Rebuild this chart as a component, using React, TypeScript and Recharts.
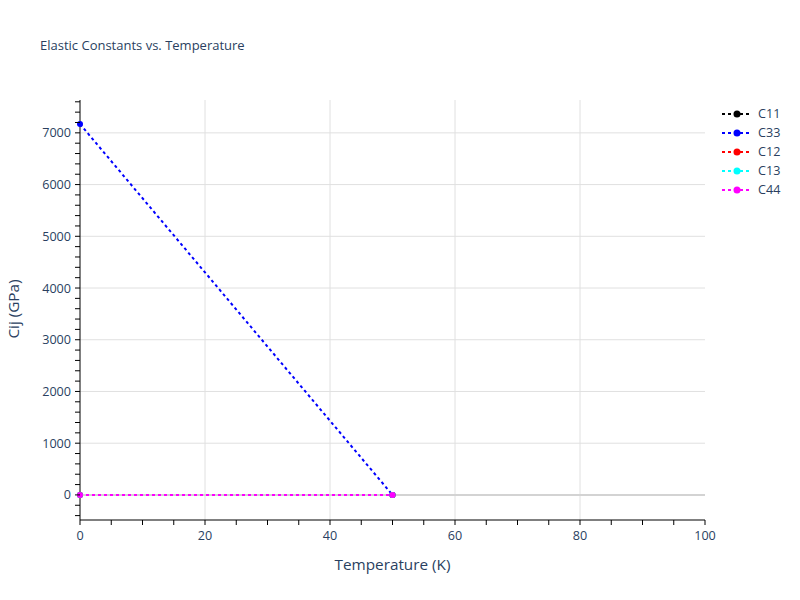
import React from "react";
import { LineChart, Line, XAxis, YAxis, CartesianGrid, ReferenceLine } from "recharts";

const temperatures = [0, 50];
const c11 = [0, 0];
const c33 = [7170, 0];
const c12 = [0, 0];
const c13 = [0, 0];
const c44 = [0, 0];

const seriesNames = ["C11", "C33", "C12", "C13", "C44"];
const seriesValues = [c11, c33, c12, c13, c44];
const seriesColors = ["#000000", "#0000ff", "#ff0000", "#00ffff", "#ff00ff"];

const xTicks = [0, 5, 10, 15, 20, 25, 30, 35, 40, 45, 50, 55, 60, 65, 70, 75, 80, 85, 90, 95, 100];
const xMajor = [0, 20, 40, 60, 80, 100];
const yTicks = [
  -400, -200, 0, 200, 400, 600, 800, 1000, 1200, 1400, 1600, 1800, 2000, 2200, 2400, 2600, 2800,
  3000, 3200, 3400, 3600, 3800, 4000, 4200, 4400, 4600, 4800, 5000, 5200, 5400, 5600, 5800, 6000,
  6200, 6400, 6600, 6800, 7000, 7200, 7400, 7600,
];
const yMajor = [0, 1000, 2000, 3000, 4000, 5000, 6000, 7000];

const FONT = '"Open Sans", Verdana, Arial, sans-serif';
const TEXT = "#2a3f5f";

const data = temperatures.map((t, i) => {
  const row: Record<string, number> = { t };
  seriesNames.forEach((name, k) => {
    row[name] = seriesValues[k][i];
  });
  return row;
});

// recharts hands the tick position 8px away from the axis line (tick size + margin)
function XTick({ x, y, payload }: any) {
  const major = xMajor.includes(payload.value);
  return (
    <g>
      <line x1={x} x2={x} y1={y - 8} y2={y - 3} stroke="#000" strokeWidth={1} />
      {major && (
        <text x={x} y={y + 12} textAnchor="middle" fill={TEXT} fontSize={12.6} fontFamily={FONT}>
          {payload.value}
        </text>
      )}
    </g>
  );
}

function YTick({ x, y, payload }: any) {
  const major = yMajor.includes(payload.value);
  return (
    <g>
      <line x1={x + 3} x2={x + 8} y1={y} y2={y} stroke="#000" strokeWidth={1} />
      {major && (
        <text x={x - 1} y={y + 4.5} textAnchor="end" fill={TEXT} fontSize={12.6} fontFamily={FONT}>
          {payload.value}
        </text>
      )}
    </g>
  );
}

function LegendBox() {
  return (
    <div style={{ position: "absolute", left: 720, top: 104, fontFamily: FONT, fontSize: 12.6, color: TEXT }}>
      {seriesNames.map((name, k) => (
        <div key={name} style={{ display: "flex", alignItems: "center", height: 19 }}>
          <svg width={34} height={10}>
            <line x1={2} x2={31} y1={5} y2={5} stroke={seriesColors[k]} strokeWidth={2} strokeDasharray="3 3" />
            <circle cx={17} cy={5} r={3.5} fill={seriesColors[k]} />
          </svg>
          <span style={{ marginLeft: 4 }}>{name}</span>
        </div>
      ))}
    </div>
  );
}

export default function App() {
  return (
    <div style={{ position: "absolute", left: 0, top: 0, width: 800, height: 600, background: "#fff" }}>
      <div style={{ position: "absolute", left: 40, top: 36, fontFamily: FONT, fontSize: 13, color: TEXT }}>
        Elastic Constants vs. Temperature
      </div>
      <LineChart width={800} height={600} data={data} margin={{ top: 100, right: 95, bottom: 50, left: 20 }}>
        <CartesianGrid
          stroke="#e0e0e0"
          strokeWidth={1}
          horizontalValues={[1000, 2000, 3000, 4000, 5000, 6000, 7000]}
          verticalValues={[20, 40, 60, 80]}
        />
        <ReferenceLine y={0} stroke="#d3d3d3" strokeWidth={2} />
        <XAxis
          dataKey="t"
          type="number"
          domain={[0, 100]}
          ticks={xTicks}
          interval={0}
          height={30}
          stroke="#000"
          tickLine={false}
          tick={<XTick />}
        />
        <YAxis
          type="number"
          domain={[-485, 7635]}
          ticks={yTicks}
          interval={0}
          width={60}
          stroke="#000"
          tickLine={false}
          tick={<YTick />}
          allowDataOverflow
        />
        {seriesNames.map((name, k) => (
          <Line
            key={name}
            dataKey={name}
            name={name}
            stroke={seriesColors[k]}
            strokeWidth={2}
            strokeDasharray="3 3"
            dot={{ r: 3, fill: seriesColors[k], stroke: seriesColors[k], strokeWidth: 0 }}
            activeDot={false}
            isAnimationActive={false}
          />
        ))}
      </LineChart>
      <div
        style={{
          position: "absolute",
          left: 80,
          width: 625,
          top: 554,
          textAlign: "center",
          fontFamily: FONT,
          fontSize: 15.3,
          color: TEXT,
        }}
      >
        Temperature (K)
      </div>
      <div
        style={{
          position: "absolute",
          left: 13,
          top: 309,
          transform: "translate(-50%, -50%) rotate(-90deg)",
          whiteSpace: "nowrap",
          fontFamily: FONT,
          fontSize: 15.3,
          color: TEXT,
        }}
      >
        Cij (GPa)
      </div>
      <LegendBox />
    </div>
  );
}
